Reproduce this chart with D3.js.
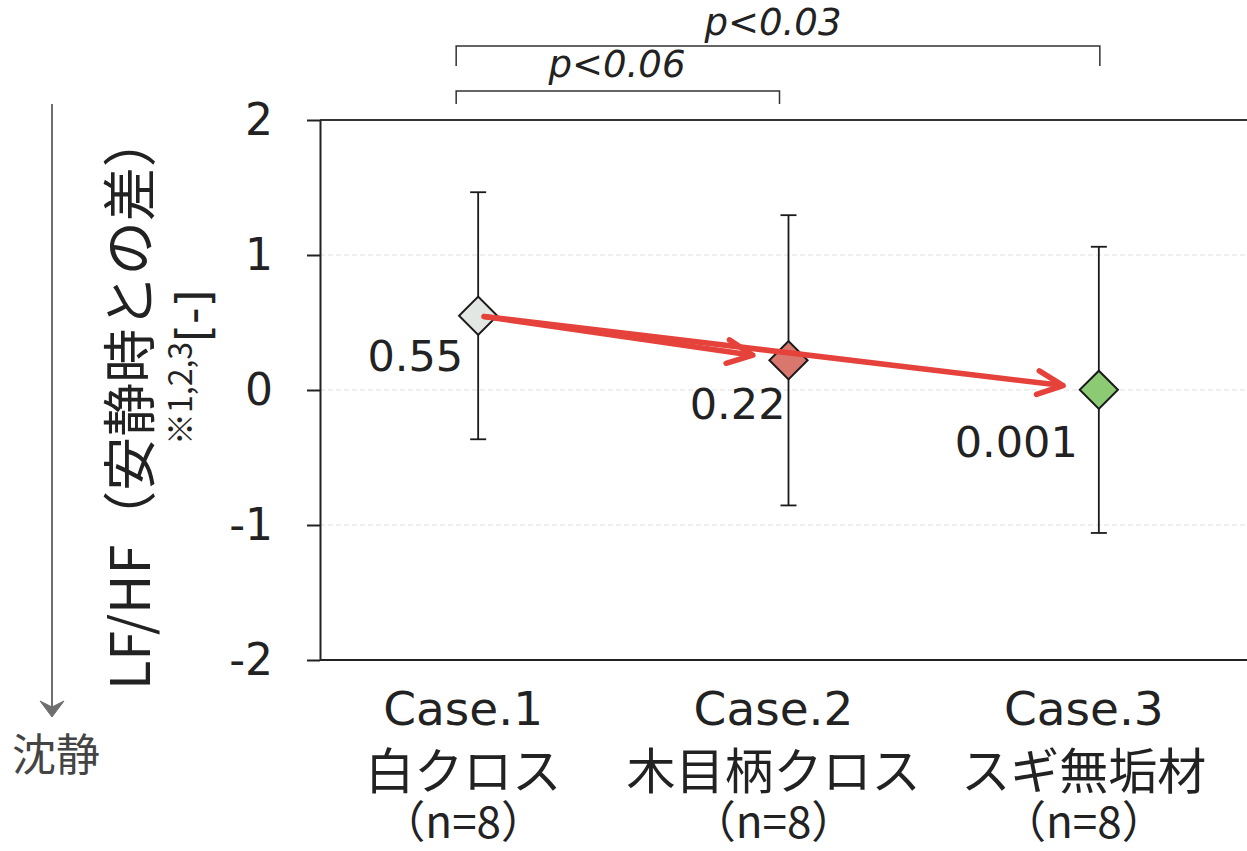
<!DOCTYPE html>
<html>
<head>
<meta charset="utf-8">
<script src="https://cdn.jsdelivr.net/npm/d3@7"></script>
<style>
  html, body { margin: 0; padding: 0; background: #fff; }
  svg { display: block; }
  .lat { font-family: "DejaVu Sans", Verdana, sans-serif; }
  .jp { font-family: "Noto Sans CJK JP", "DejaVu Sans", sans-serif; }
</style>
</head>
<body>
<svg id="chart" width="1247" height="851"></svg>
<script>
// LF/HF change from rest, mean ± SD per condition
const caseNames   = ["Case.1", "Case.2", "Case.3"];
const materials   = ["白クロス", "木目柄クロス", "スギ無垢材"];
const sampleSizes = ["（n=8）", "（n=8）", "（n=8）"];
const means       = [0.55, 0.22, 0.001];
const sds         = [0.915, 1.075, 1.06];
const fills       = ["#e3e7e3", "#d9776f", "#8ccb74"];
const yTicks      = [-2, -1, 0, 1, 2];
const valueLabels = ["0.55", "0.22", "0.001"];

// trend arrows between conditions (index pairs)
const arrowFrom = [0, 0];
const arrowTo   = [1, 2];

// significance brackets
const bracketFrom  = [0, 0];
const bracketTo    = [1, 2];
const bracketTexts = ["p<0.06", "p<0.03"];

const svg = d3.select("#chart");

const plot = { left: 320, right: 1254, top: 120, bottom: 660 };

const x = d3.scalePoint()
  .domain(caseNames)
  .range([plot.left + 3, plot.right])
  .padding(0.5);

const y = d3.scaleLinear()
  .domain([-2, 2])
  .range([plot.bottom, plot.top]);

// light horizontal gridlines
svg.append("g")
  .selectAll("line")
  .data(yTicks.filter(t => t > -2 && t < 2))
  .join("line")
  .attr("x1", plot.left).attr("x2", plot.right)
  .attr("y1", d => y(d)).attr("y2", d => y(d))
  .attr("stroke", "#e0e0e0")
  .attr("stroke-width", 1.2)
  .attr("stroke-dasharray", "5 3");

// plot frame: top border and bottom axis
svg.append("line")
  .attr("x1", plot.left).attr("x2", plot.right)
  .attr("y1", y(2)).attr("y2", y(2))
  .attr("stroke", "#333").attr("stroke-width", 2);
svg.append("line")
  .attr("x1", plot.left).attr("x2", plot.right)
  .attr("y1", y(-2)).attr("y2", y(-2))
  .attr("stroke", "#222").attr("stroke-width", 2.2);

// y axis
const yAxis = d3.axisLeft(y)
  .tickValues(yTicks)
  .tickFormat(d => String(d))
  .tickSizeInner(13)
  .tickSizeOuter(0)
  .tickPadding(34);

const gy = svg.append("g")
  .attr("transform", `translate(${plot.left},0)`)
  .call(yAxis);
gy.select(".domain").attr("stroke", "#222").attr("stroke-width", 2);
gy.selectAll(".tick line").attr("stroke", "#222").attr("stroke-width", 2);
gy.selectAll(".tick text")
  .attr("class", "lat")
  .attr("font-size", 44)
  .attr("fill", "#222");

// error bars
const eb = svg.append("g").attr("stroke", "#1a1a1a").attr("stroke-width", 1.8);
caseNames.forEach((c, i) => {
  const cx = x(c);
  const hi = y(means[i] + sds[i]);
  const lo = y(means[i] - sds[i]);
  eb.append("line").attr("x1", cx).attr("x2", cx).attr("y1", hi).attr("y2", lo);
  eb.append("line").attr("x1", cx - 8).attr("x2", cx + 8).attr("y1", hi).attr("y2", hi);
  eb.append("line").attr("x1", cx - 8).attr("x2", cx + 8).attr("y1", lo).attr("y2", lo);
});

// diamond markers
const diamond = d3.symbol().type(d3.symbolSquare).size(27 * 27);
svg.append("g")
  .selectAll("path")
  .data(caseNames)
  .join("path")
  .attr("d", diamond)
  .attr("transform", (c, i) => `translate(${x(c)},${y(means[i])}) rotate(45)`)
  .attr("fill", (c, i) => fills[i])
  .attr("stroke", "#1a1a1a")
  .attr("stroke-width", 2);

// value labels beside markers
const labelDx = [-15, -3, -21];
const labelDy = [55, 59, 67];
svg.append("g")
  .selectAll("text")
  .data(valueLabels)
  .join("text")
  .attr("class", "lat")
  .attr("x", (d, i) => x(caseNames[i]) + labelDx[i])
  .attr("y", (d, i) => y(means[i]) + labelDy[i])
  .attr("text-anchor", "end")
  .attr("font-size", 43)
  .attr("fill", "#222")
  .text(d => d);

// red trend arrows
const arrows = svg.append("g")
  .attr("stroke", "#e5423c")
  .attr("stroke-width", 5.5)
  .attr("stroke-linecap", "round")
  .attr("stroke-linejoin", "round")
  .attr("fill", "none");
arrowFrom.forEach((f, k) => {
  const t = arrowTo[k];
  const x0 = x(caseNames[f]), y0 = y(means[f]);
  const x1 = x(caseNames[t]), y1 = y(means[t]);
  const len = Math.hypot(x1 - x0, y1 - y0);
  const ux = (x1 - x0) / len, uy = (y1 - y0) / len;
  const sx = x0 + ux * 6, sy = y0 + uy * 6;
  const ex = x1 - ux * 36, ey = y1 - uy * 36;
  const ang = Math.atan2(uy, ux);
  const wing = 28, spread = 25 * Math.PI / 180;
  const w1x = ex - wing * Math.cos(ang - spread), w1y = ey - wing * Math.sin(ang - spread);
  const w2x = ex - wing * Math.cos(ang + spread), w2y = ey - wing * Math.sin(ang + spread);
  arrows.append("path")
    .attr("d", `M${sx},${sy}L${ex},${ey}M${w1x},${w1y}L${ex},${ey}L${w2x},${w2y}`);
});

// significance brackets
const bracketY    = [91, 46];
const bracketDrop = [13, 20];
const bracketTextY = [77, 35];
const bk = svg.append("g");
bracketFrom.forEach((f, k) => {
  const xa = x(caseNames[f]) - 22;
  const xb = x(caseNames[bracketTo[k]]) - 9 + (k === 0 ? 0 : 10);
  const yy = bracketY[k];
  bk.append("path")
    .attr("d", `M${xa},${yy + bracketDrop[k]}V${yy}H${xb}V${yy + bracketDrop[k]}`)
    .attr("fill", "none")
    .attr("stroke", "#333")
    .attr("stroke-width", 1.5);
  bk.append("text")
    .attr("class", "lat")
    .attr("x", k === 0 ? 617 : 773)
    .attr("y", bracketTextY[k])
    .attr("text-anchor", "middle")
    .attr("font-size", 37)
    .attr("font-style", "italic")
    .attr("fill", "#222")
    .text(bracketTexts[k]);
});

// category labels (three lines)
const catG = svg.append("g").attr("fill", "#222");
caseNames.forEach((c, i) => {
  const cx = x(c) - 15;
  catG.append("text").attr("class", "lat")
    .attr("x", cx).attr("y", 725).attr("text-anchor", "middle")
    .attr("font-size", 47).text(c);
  catG.append("text").attr("class", "jp")
    .attr("x", cx).attr("y", 789).attr("text-anchor", "middle")
    .attr("font-size", 49).text(materials[i]);
  catG.append("text").attr("class", "jp")
    .attr("x", cx).attr("y", 838).attr("text-anchor", "middle")
    .attr("font-size", 44).text(sampleSizes[i]);
});

// y axis title
svg.append("text")
  .attr("class", "jp")
  .attr("transform", "translate(150,690) rotate(-90)")
  .attr("font-size", 54)
  .attr("fill", "#222")
  .text("LF/HF（安静時との差）");
svg.append("text")
  .attr("class", "jp")
  .attr("transform", "translate(192,445) rotate(-90)")
  .attr("font-size", 32)
  .attr("fill", "#222")
  .text("※1,2,3");
svg.append("text")
  .attr("class", "lat")
  .attr("transform", "translate(209,342) rotate(-90)")
  .attr("font-size", 46)
  .attr("fill", "#222")
  .text("[-]");

// direction hint: downward means calmer
const hint = svg.append("g").attr("fill", "#6e6e6e").attr("stroke", "#6e6e6e");
hint.append("line")
  .attr("x1", 52).attr("x2", 52).attr("y1", 104).attr("y2", 710)
  .attr("stroke-width", 2);
hint.append("path")
  .attr("d", "M40,701L52,717L64,701L52,707Z")
  .attr("stroke-width", 1);
svg.append("text")
  .attr("class", "jp")
  .attr("x", 12).attr("y", 771)
  .attr("font-size", 44)
  .attr("fill", "#444")
  .text("沈静");
</script>
</body>
</html>
